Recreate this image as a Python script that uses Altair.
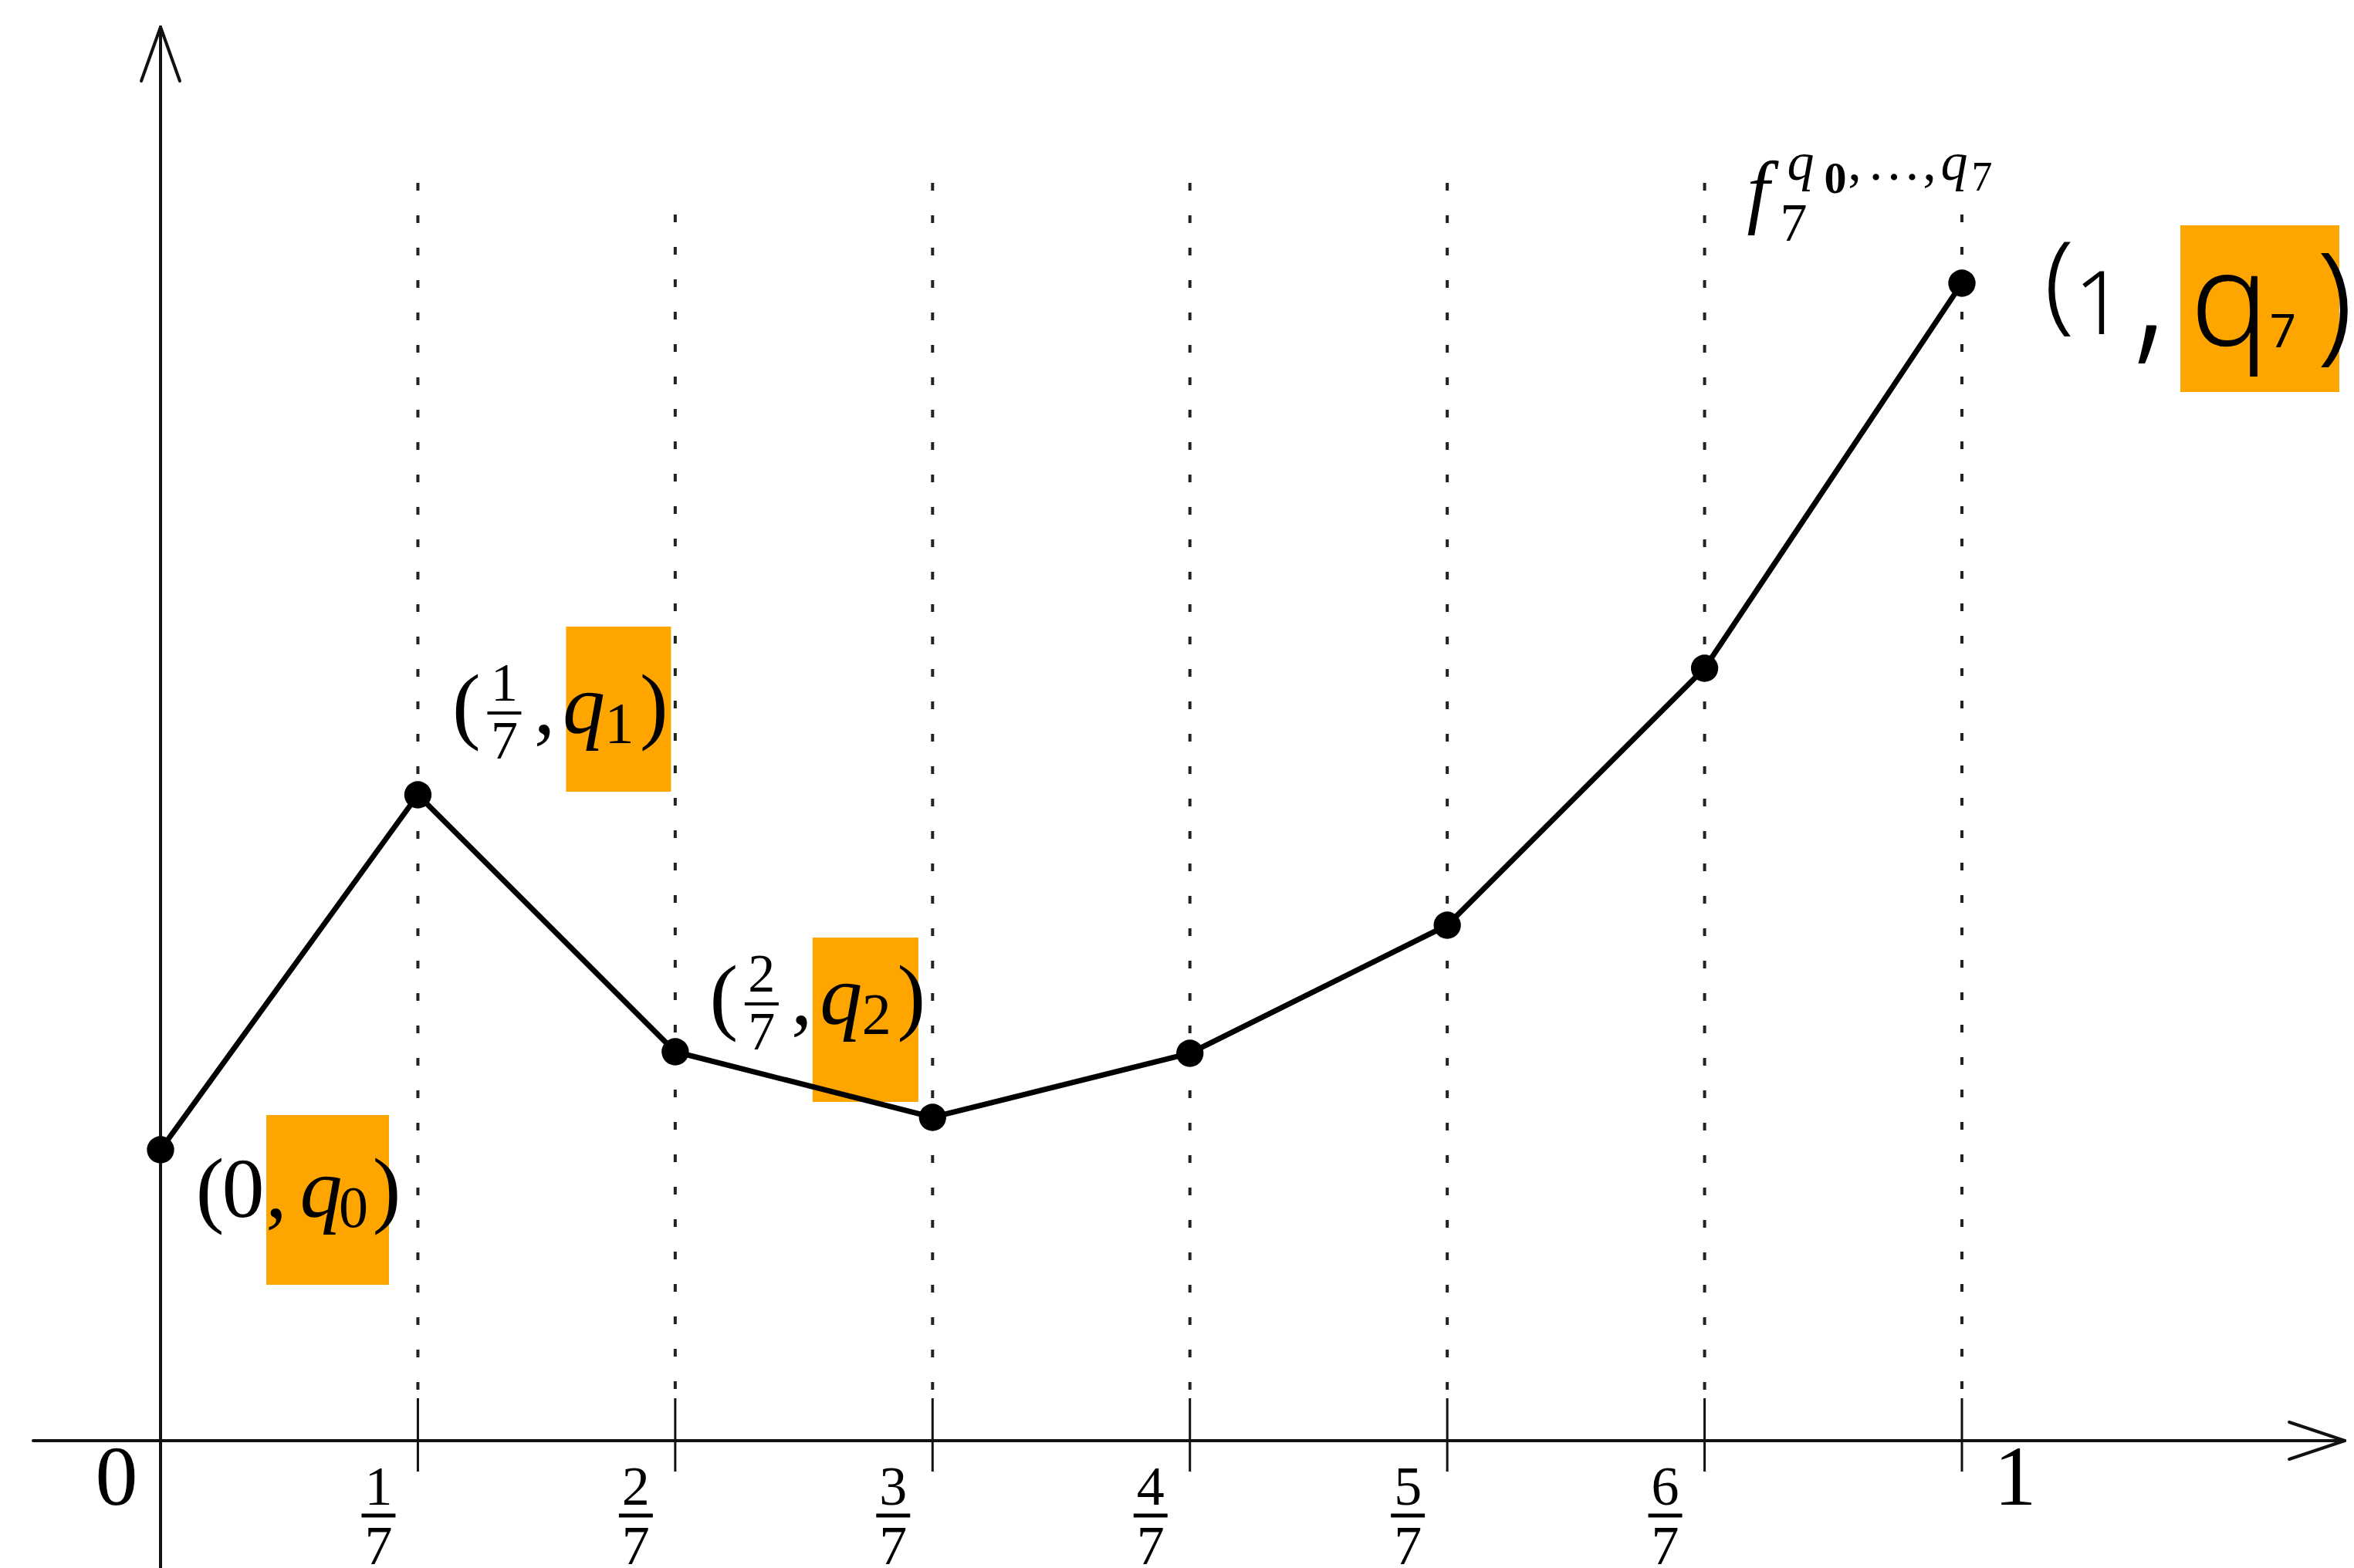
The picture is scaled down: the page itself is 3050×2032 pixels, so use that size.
import altair as alt
import pandas as pd

# ---------------- data ----------------
x_vals = [0, 1/7, 2/7, 3/7, 4/7, 5/7, 6/7, 1]
q_vals = [3.77, 8.37, 5.04, 4.19, 5.02, 6.68, 10.01, 15.0]
tick_x = [1/7, 2/7, 3/7, 4/7, 5/7, 6/7, 1]
frac_num = ["1", "2", "3", "4", "5", "6"]
frac_den = ["7", "7", "7", "7", "7", "7"]

# ---------------- layout constants ----------------
XDOM = [-0.08912, 1.21765]
YDOM = [-1.65, 18.67]
X_AXIS_EXT = [-0.0707, 1.2125]
Y_AXIS_TOP = 18.32
TICK_TOP, TICK_BOT = 0.55, -0.40
GUIDE_TOP = [16.30, 15.89, 16.30, 16.30, 16.30, 16.30, 15.89]
SERIF = "Liberation Serif"
SANS = "Noto Sans"
ORANGE = "#FFA500"

X = alt.Scale(domain=XDOM, nice=False, zero=False)
Y = alt.Scale(domain=YDOM, nice=False, zero=False)

pts = pd.DataFrame({"x": x_vals, "q": q_vals})


def xy(xf="x", yf="y"):
    return dict(x=alt.X(f"{xf}:Q", scale=X, axis=None), y=alt.Y(f"{yf}:Q", scale=Y, axis=None))


def anchor(i):
    return pd.DataFrame({"x": [x_vals[i]], "y": [q_vals[i]]})


def txt(df, text, dx, dy, size, style="normal", weight="normal", font=SERIF):
    return alt.Chart(df).mark_text(
        text=text, dx=dx, dy=dy, fontSize=size, fontStyle=style, fontWeight=weight,
        font=font, align="center", baseline="alphabetic", color="black"
    ).encode(**xy())


def hl(i, x0, x1, y0, y1):
    return alt.Chart(anchor(i)).mark_rect(
        color=ORANGE, opacity=1, xOffset=x0, x2Offset=x1, yOffset=y0, y2Offset=y1
    ).encode(x=alt.X("x:Q", scale=X, axis=None), x2="x",
             y=alt.Y("y:Q", scale=Y, axis=None), y2="y")


layers = []

# highlights
layers += [hl(0, 137, 296, -45, 175), hl(1, 192, 328, -218, -4),
           hl(2, 178, 315, -148, 65), hl(7, 283, 489, -75, 141)]

# dotted guides
guides = pd.DataFrame({"x": tick_x, "y": GUIDE_TOP, "y2": [TICK_TOP] * 7})
layers.append(alt.Chart(guides).mark_rule(color="#222", strokeWidth=4, strokeDash=[10, 32]).encode(
    x=alt.X("x:Q", scale=X, axis=None), y=alt.Y("y:Q", scale=Y, axis=None), y2="y2"))

# axes + arrows
axes = pd.DataFrame({
    "x": [X_AXIS_EXT[0], 0, X_AXIS_EXT[1], X_AXIS_EXT[1], 0, 0],
    "x2": [X_AXIS_EXT[1], 0, X_AXIS_EXT[1] - 0.0308, X_AXIS_EXT[1] - 0.0308, -0.0107, 0.0107],
    "y": [0, YDOM[0], 0, 0, Y_AXIS_TOP, Y_AXIS_TOP],
    "y2": [0, Y_AXIS_TOP, 0.24, -0.24, Y_AXIS_TOP - 0.70, Y_AXIS_TOP - 0.70],
})
layers.append(alt.Chart(axes).mark_rule(color="#111", strokeWidth=4, strokeCap="round").encode(
    x=alt.X("x:Q", scale=X, axis=None), x2="x2", y=alt.Y("y:Q", scale=Y, axis=None), y2="y2"))

# ticks
ticks = pd.DataFrame({"x": tick_x, "y": [TICK_TOP] * 7, "y2": [TICK_BOT] * 7})
layers.append(alt.Chart(ticks).mark_rule(color="#111", strokeWidth=3).encode(
    x=alt.X("x:Q", scale=X, axis=None), y=alt.Y("y:Q", scale=Y, axis=None), y2="y2"))

# polyline + points
layers.append(alt.Chart(pts).mark_line(color="black", strokeWidth=7).encode(**xy("x", "q")))
layers.append(alt.Chart(pts).mark_circle(color="black", size=1250, opacity=1).encode(**xy("x", "q")))

# x tick labels
fr = pd.DataFrame({"x": tick_x[:6], "y": [0] * 6, "num": frac_num, "den": frac_den})
layers.append(alt.Chart(fr).mark_text(dx=-51, dy=83, fontSize=72, font=SERIF, baseline="alphabetic",
                                      align="center", color="black").encode(text="num:N", **xy()))
layers.append(alt.Chart(fr).mark_text(dx=-51, dy=160, fontSize=72, font=SERIF, baseline="alphabetic",
                                      align="center", color="black").encode(text="den:N", **xy()))
layers.append(alt.Chart(fr).mark_rule(color="black", strokeWidth=5, xOffset=-73, x2Offset=-29,
                                      yOffset=97, y2Offset=97).encode(
    x=alt.X("x:Q", scale=X, axis=None), x2="x", y=alt.Y("y:Q", scale=Y, axis=None)))
layers.append(txt(pd.DataFrame({"x": [0], "y": [0]}), "0", -57, 83, 110))
layers.append(txt(pd.DataFrame({"x": [1], "y": [0]}), "1", 69, 83, 110))

# label (0, q0)
a0 = anchor(0)
b = 87
layers += [txt(a0, "(", 64, b, 110), txt(a0, "0", 107, b, 110), txt(a0, ",", 150, b, 110),
           txt(a0, "q", 208, b, 110, "italic"), txt(a0, "0", 250, b + 13, 76), txt(a0, ")", 293, b, 110)]


# labels (k/7, qk)
def frac_label(i, num, b):
    a = anchor(i)
    out = [txt(a, "(", 63, b, 110), txt(a, num, 112, b - 42, 70), txt(a, "7", 112, b + 33, 70),
           txt(a, ",", 164, b, 110), txt(a, "q", 215, b, 110, "italic"),
           txt(a, num, 261, b + 13, 76), txt(a, ")", 306, b, 110)]
    out.append(alt.Chart(a).mark_rule(color="black", strokeWidth=4, xOffset=90, x2Offset=134,
                                      yOffset=b - 26, y2Offset=b - 26).encode(
        x=alt.X("x:Q", scale=X, axis=None), x2="x", y=alt.Y("y:Q", scale=Y, axis=None)))
    return out


layers += frac_label(1, "1", -80)
layers += frac_label(2, "2", -36)

# f_7^{q0,...,q7}
a7 = anchor(7)
layers += [txt(a7, "f", -264, -85, 105, "italic"), txt(a7, "7", -218, -55, 70),
           txt(a7, "q", -209, -134, 70, "italic"), txt(a7, "0", -164, -117, 58, weight="bold"),
           txt(a7, ",", -139, -134, 70), txt(a7, "…", -88, -134, 70), txt(a7, ",", -42, -134, 70),
           txt(a7, "q", -10, -134, 70, "italic"), txt(a7, "7", 26, -120, 54)]

# handwritten (1, q7)
layers += [txt(a7, "(", 126, 47, 140, weight=300, font=SANS), txt(a7, "1", 178, 66, 115, weight=300, font=SANS),
           txt(a7, ",", 243, 78, 200, weight=300, font=SANS), txt(a7, "q", 347, 81, 170, weight=300, font=SANS),
           txt(a7, "7", 416, 83, 60, font=SANS), txt(a7, ")", 483, 82, 170, weight=300, font=SANS)]

chart = alt.layer(*layers).properties(
    width=3050, height=2032, autosize=alt.AutoSizeParams(type="none"), padding=0,
    background="white"
).configure_view(stroke=None)

chart.save("out.html", embed_options={"renderer": "svg", "actions": False})
